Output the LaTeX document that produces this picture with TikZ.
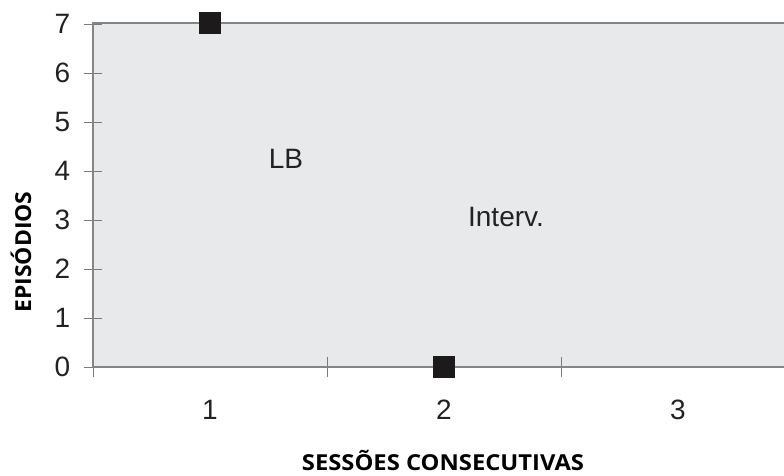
\documentclass[tikz,border=0pt]{standalone}
\usepackage{fontspec}
\setmainfont{Liberation Sans}
\newfontfamily\titlefont{Open Sans}
\definecolor{plotbg}{HTML}{E8E9EB}
\definecolor{axisgray}{HTML}{858585}
\definecolor{tickgray}{HTML}{7A7A7A}
\definecolor{markblack}{HTML}{1C1A1B}
\definecolor{labelgray}{HTML}{222222}
\tikzset{
  axisline/.style={draw=axisgray, line width=2.6pt},
  tickline/.style={draw=tickgray, line width=0.9pt},
  numlabel/.style={font=\fontsize{28}{28}\selectfont, text=labelgray, inner sep=0pt},
  axistitle/.style={font=\titlefont\bfseries\fontsize{22}{22}\selectfont, text=black, inner sep=0pt},
  datamark/.style={fill=markblack, minimum size=22pt, inner sep=0pt, draw=none, rectangle},
}
\begin{document}
\begin{tikzpicture}[x=1pt, y=-1pt]
\useasboundingbox (0,0) rectangle (784,476);
% plot area
\fill[plotbg] (93,23) rectangle (784,367);
% ticks (y)
\foreach \v in {0,...,7} {
  \draw[tickline] (84,{367-49*\v}) -- (102,{367-49*\v});
  \node[numlabel, anchor=east] (y\v) at (70.5,{367-49*\v}) {\v};
}
% ticks (x)
\draw[tickline] (93,357) -- (93,377);
\draw[tickline] (327,357) -- (327,377);
\draw[tickline] (561,357) -- (561,377);
% axes
\draw[axisline] (93,23) -- (784,23);
\draw[axisline] (93,367) -- (784,367);
\draw[axisline] (93,22) -- (93,368);
% x labels
\node[numlabel] (x1) at (210,410) {1};
\node[numlabel] (x2) at (444,410) {2};
\node[numlabel] (x3) at (678,410) {3};
% phase labels
\node[numlabel] (lb) at (286,159) {LB};
\node[numlabel] (interv) at (506,217) {Interv.};
% data points
\node[datamark] (p1) at (210,23) {};
\node[datamark] (p2) at (444,367) {};
% axis titles
\node[axistitle] (xt) at (443,460) {\scalebox{1.08}[1]{SESSÕES CONSECUTIVAS}};
\node[axistitle, rotate=90] (yt) at (21,252) {\scalebox{1.04}[1]{EPISÓDIOS}};
\end{tikzpicture}
\end{document}
